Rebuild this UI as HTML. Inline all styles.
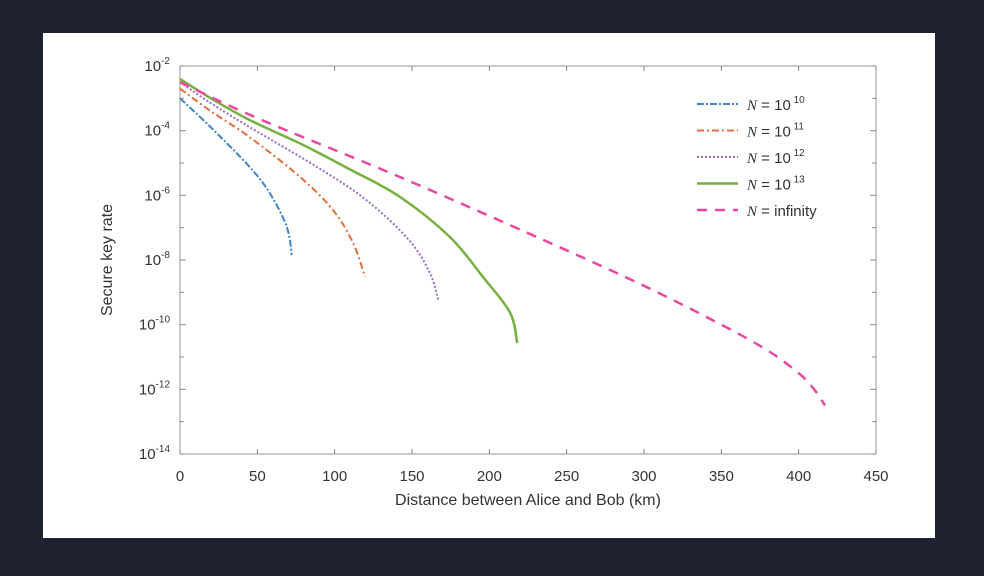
<!DOCTYPE html>
<html><head><meta charset="utf-8"><style>
body{margin:0;background:#1e2130;width:984px;height:576px;overflow:hidden;font-family:"Liberation Sans",sans-serif}
#panel{position:absolute;left:43px;top:33px;width:892px;height:505px;background:#fff}
svg{position:absolute;left:0;top:0}
</style></head><body>
<div id="panel"></div>
<svg id="chart" width="984" height="576"></svg>
<script>
const xTicks=[0,50,100,150,200,250,300,350,400,450];
const yTicks=[-2,-4,-6,-8,-10,-12,-14];
const seriesNames=["10","11","12","13","infinity"];
const blueKm=[0,20,45,58,69,72.3];
const blueLog=[-3.0,-3.9,-5.12,-5.93,-6.97,-7.85];
const orangeKm=[0,20,45,77.6,99,112,119.6];
const orangeLog=[-2.7,-3.4,-4.2,-5.43,-6.46,-7.48,-8.52];
const purpleKm=[0,20,45,88.5,120.6,148,161.6,167];
const purpleLog=[-2.5,-3.15,-3.89,-5.12,-6.15,-7.38,-8.4,-9.24];
const greenKm=[0,20,45,80,110,142,174.5,196,213.5,218];
const greenLog=[-2.4,-3.0,-3.67,-4.45,-5.2,-6.04,-7.29,-8.53,-9.64,-10.57];
const pinkKm=[0,49.4,142,235,300,350,380,400,410,417];
const pinkLog=[-2.5,-3.6,-5.43,-7.38,-8.8,-10.0,-10.8,-11.5,-12.0,-12.5];

const X0=180,X1=876,Y0=66,Y1=454;
const sx=v=>X0+(v-0)/450*(X1-X0);
const sy=v=>Y0+(-2-v)/12*(Y1-Y0);
const svg=document.getElementById('chart');const NS='http://www.w3.org/2000/svg';
function mk(t,a,p){const e=document.createElementNS(NS,t);for(const k in a)e.setAttribute(k,a[k]);(p||svg).appendChild(e);return e;}
const frame=mk('rect',{x:X0,y:Y0,width:X1-X0,height:Y1-Y0,fill:'none',stroke:'#999','stroke-width':1});


xTicks.forEach(t=>{
 mk('line',{x1:sx(t),x2:sx(t),y1:Y1,y2:Y1-5,stroke:'#888'});
 mk('line',{x1:sx(t),x2:sx(t),y1:Y0,y2:Y0+5,stroke:'#888'});
 const l=mk('text',{x:sx(t),y:481,'text-anchor':'middle','font-size':15,fill:'#333'});l.textContent=t;
 
 
});
for(let d=-2;d>=-14;d--){
 const w=d%2===0?6:4;
 mk('line',{x1:X0,x2:X0+w,y1:sy(d),y2:sy(d),stroke:'#888'});
 mk('line',{x1:X1,x2:X1-w,y1:sy(d),y2:sy(d),stroke:'#888'});
}
yTicks.forEach(t=>{
 const l=mk('text',{x:170,y:sy(t)+5,'text-anchor':'end','font-size':15,fill:'#333'});
 l.innerHTML='10<tspan dy="-7" font-size="10">'+t+'</tspan>';
 
 
});
const xt=mk('text',{x:(X0+X1)/2,y:505,'text-anchor':'middle','font-size':16,fill:'#333'});xt.textContent='Distance between Alice and Bob (km)';


const yt=mk('text',{x:0,y:0,'text-anchor':'middle','font-size':16,fill:'#333',transform:'translate(112,260) rotate(-90)'});yt.textContent='Secure key rate';


function smooth(pts){
 let d='M'+pts[0][0].toFixed(1)+','+pts[0][1].toFixed(1);
 for(let i=0;i<pts.length-1;i++){
  const p0=pts[Math.max(0,i-1)],p1=pts[i],p2=pts[i+1],p3=pts[Math.min(pts.length-1,i+2)];
  const c1=[p1[0]+(p2[0]-p0[0])/6,p1[1]+(p2[1]-p0[1])/6];
  const c2=[p2[0]-(p3[0]-p1[0])/6,p2[1]-(p3[1]-p1[1])/6];
  d+=' C'+c1.map(v=>v.toFixed(1)).join(',')+' '+c2.map(v=>v.toFixed(1)).join(',')+' '+p2[0].toFixed(1)+','+p2[1].toFixed(1);
 }
 return d;
}
const series=[
 [blueKm,blueLog,'#3f86c6','7 2 2 2',2],
 [orangeKm,orangeLog,'#e0703a','7 3 2 3',2],
 [purpleKm,purpleLog,'#9a6ac6','2 2',2],
 [greenKm,greenLog,'#77b040','',2.5],
 [pinkKm,pinkLog,'#e9489e','10 8',2.5]];
series.forEach((s,i)=>{
 const pts=s[0].map((k,j)=>[sx(k),sy(s[1][j])]);
 const p=mk('path',{d:smooth(pts),fill:'none',stroke:s[2],'stroke-width':s[4],'stroke-dasharray':s[3]});
 
 
 const ly=104+i*26.5;
 const ll=mk('line',{x1:697,x2:738,y1:ly,y2:ly,stroke:s[2],'stroke-width':s[4],'stroke-dasharray':s[3]});
 
 
 const lt=mk('text',{x:747,y:ly+6,'font-size':15,fill:'#333'});
 lt.innerHTML= i<4 ? '<tspan font-family="Liberation Serif" font-style="italic">N</tspan> = 10<tspan dy="-7" font-size="10"> '+seriesNames[i]+'</tspan>' : '<tspan font-family="Liberation Serif" font-style="italic">N</tspan> = infinity';
 
 
});
</script>
</body></html>
